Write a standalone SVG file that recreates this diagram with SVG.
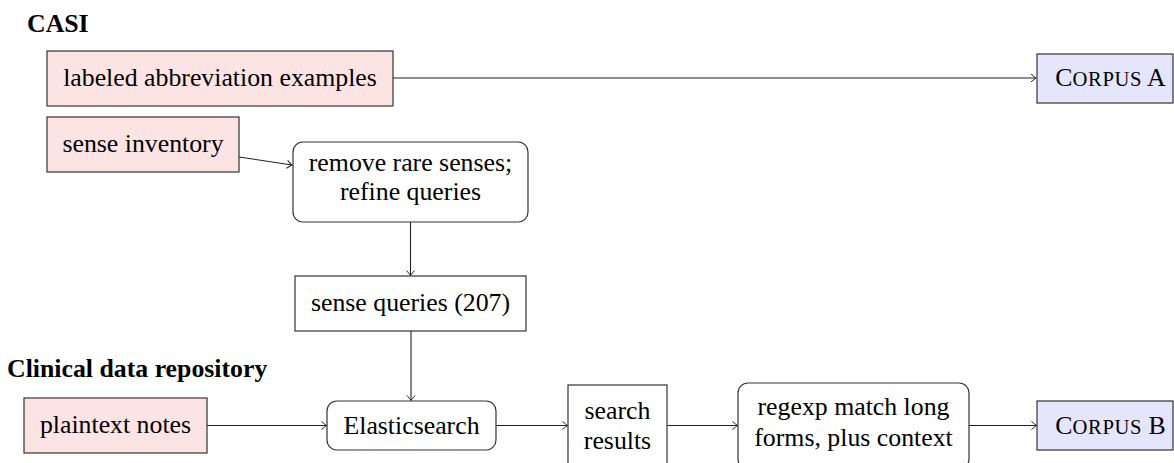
<svg xmlns="http://www.w3.org/2000/svg" width="1174" height="463" viewBox="0 0 1174 463">
<defs>
<style>
text{font-family:"Liberation Serif","Times New Roman",serif;font-size:25.8px;fill:#000;text-anchor:middle}
.title{font-weight:bold;text-anchor:start}
.box{stroke:#333;stroke-width:1.2;fill:#fff}
.src{fill:#fde4e4}
.out{fill:#e5e5fb}
.sc{font-size:20.6px;letter-spacing:0.6px}
.conn line,.conn path{stroke:#222;stroke-width:1.1;fill:none;marker-end:url(#arr)}
</style>
<marker id="arr" viewBox="-6 -5 8 10" markerWidth="8" markerHeight="10" refX="0" refY="0" orient="auto" markerUnits="userSpaceOnUse">
<path d="M-5,-4 Q-1.5,-1 0,0 Q-1.5,1 -5,4" fill="none" stroke="#222" stroke-width="1"/>
</marker>
</defs>
<rect width="1174" height="463" fill="#fff"/>
<text class="title" x="27" y="32">CASI</text>
<text class="title" x="7" y="377">Clinical data repository</text>
<g class="conn">
<line x1="393" y1="78" x2="1036" y2="78"/>
<line x1="239" y1="157" x2="292" y2="165"/>
<line x1="410.5" y1="222" x2="410.5" y2="275.5"/>
<line x1="411" y1="331" x2="411" y2="400.5"/>
<line x1="207" y1="425.5" x2="326.5" y2="425.5"/>
<line x1="496" y1="425.5" x2="567.5" y2="425.5"/>
<line x1="667" y1="425.5" x2="737.5" y2="425.5"/>
<line x1="969" y1="425.5" x2="1036.5" y2="425.5"/>
</g>
<g id="labeled">
<rect class="box src" x="47" y="51" width="346" height="55"/>
<text x="220" y="85.5">labeled abbreviation examples</text>
</g>
<g id="corpusA">
<rect class="box out" x="1037" y="54" width="136" height="49"/>
<text x="1110.5" y="86">C<tspan class="sc">ORPUS</tspan> A</text>
</g>
<g id="inventory">
<rect class="box src" x="47" y="117" width="192" height="55"/>
<text x="143" y="151.5">sense inventory</text>
</g>
<g id="remove">
<rect class="box" x="293" y="142" width="235" height="80" rx="10"/>
<text x="410.5" y="171">remove rare senses;</text>
<text x="410.5" y="199.5">refine queries</text>
</g>
<g id="queries">
<rect class="box" x="295" y="276" width="231" height="55"/>
<text x="410.5" y="310.5">sense queries (207)</text>
</g>
<g id="plaintext">
<rect class="box src" x="24" y="398" width="183" height="55"/>
<text x="115.5" y="432.5">plaintext notes</text>
</g>
<g id="elastic">
<rect class="box" x="327" y="401" width="169" height="49" rx="10"/>
<text x="411.5" y="433.5">Elasticsearch</text>
</g>
<g id="results">
<rect class="box" x="568" y="385" width="99" height="82"/>
<text x="617.5" y="419">search</text>
<text x="617.5" y="449">results</text>
</g>
<g id="regexp">
<rect class="box" x="738" y="383" width="231" height="86" rx="10"/>
<text x="853.5" y="415">regexp match long</text>
<text x="853.5" y="446">forms, plus context</text>
</g>
<g id="corpusB">
<rect class="box out" x="1037" y="401" width="136" height="49"/>
<text x="1110.5" y="433.5">C<tspan class="sc">ORPUS</tspan> B</text>
</g>
</svg>
